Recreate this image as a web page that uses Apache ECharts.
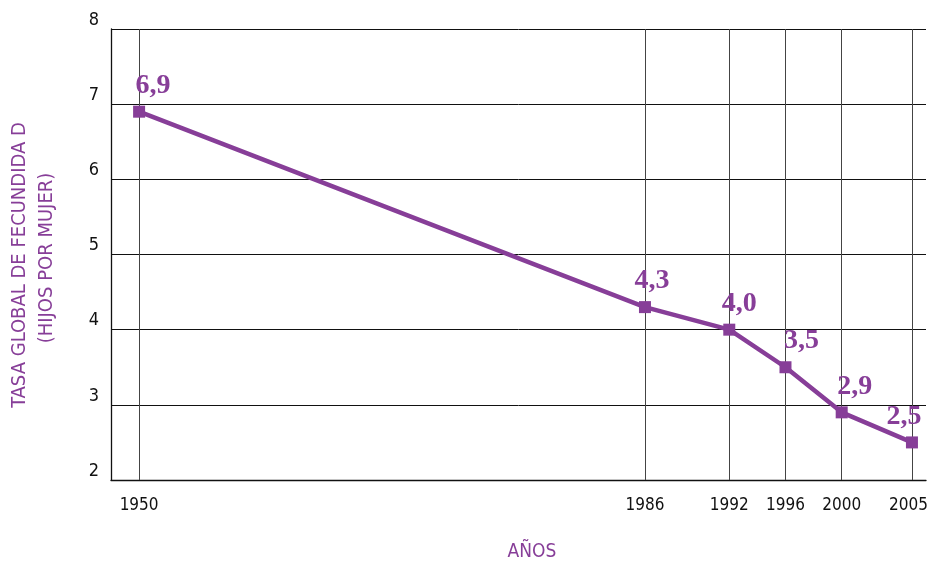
<!DOCTYPE html>
<html>
<head>
<meta charset="utf-8">
<script src="https://cdn.jsdelivr.net/npm/echarts@6/dist/echarts.min.js"></script>
<style>
  html, body { margin: 0; padding: 0; background: #fff; }
  #chart { width: 928px; height: 563px; }
</style>
</head>
<body>
<div id="chart"></div>
<script>
// Tasa global de fecundidad por año
const years = [1950, 1986, 1992, 1996, 2000, 2005];
const rates = [6.9, 4.3, 4.0, 3.5, 2.9, 2.5];
const rateLabels = ['6,9', '4,3', '4,0', '3,5', '2,9', '2,5'];
const labelOffsets = [[14, 0], [7, 0], [10, 0], [16, 0], [13, 0], [-8, 0]];
const yTicks = [2, 3, 4, 5, 6, 7, 8];

const purple = '#873E98';
const condensed = "'Liberation Sans Narrow', 'DejaVu Sans Condensed', 'Roboto', sans-serif";
const lastYear = years[years.length - 1];

const chart = echarts.init(document.getElementById('chart'));

chart.setOption({
  animation: false,
  grid: { left: 111, right: 2, top: 29, bottom: 83, outerBoundsMode: 'none', containLabel: false },
  xAxis: {
    type: 'value',
    min: 1948,
    max: 2006,
    axisLine: { show: true, lineStyle: { color: '#111', width: 1.3 } },
    axisTick: { show: false },
    splitLine: { show: false },
    axisLabel: {
      customValues: years,
      // the last year sits against the right edge, so nudge it inward
      formatter: v => (v === lastYear ? '{edge|' + v + '}' : String(v)),
      rich: { edge: { padding: [0, 7, 0, 0], fontSize: 17, fontFamily: condensed, color: '#111' } },
      color: '#111',
      fontFamily: condensed,
      fontSize: 17,
      margin: 17
    }
  },
  yAxis: {
    type: 'value',
    min: yTicks[0],
    max: yTicks[yTicks.length - 1],
    interval: 1,
    axisLine: { show: true, lineStyle: { color: '#111', width: 1.3 } },
    axisTick: { show: false },
    splitLine: { show: true, lineStyle: { color: '#111', width: 1 } },
    axisLabel: {
      color: '#111',
      fontFamily: condensed,
      fontSize: 18,
      margin: 12,
      verticalAlign: 'bottom'
    }
  },
  graphic: [
    {
      type: 'text',
      x: 20, y: 265, rotation: Math.PI / 2,
      style: {
        text: 'TASA GLOBAL DE FECUNDIDA D',
        fill: purple, font: "20px " + condensed,
        align: 'center', verticalAlign: 'middle'
      }
    },
    {
      type: 'text',
      x: 47, y: 258, rotation: Math.PI / 2,
      style: {
        text: '(HIJOS POR MUJER)',
        fill: purple, font: "20px " + condensed,
        align: 'center', verticalAlign: 'middle'
      }
    },
    {
      type: 'text',
      x: 532, y: 552,
      style: {
        text: 'AÑOS',
        fill: purple, font: "19px " + condensed,
        align: 'center', verticalAlign: 'middle'
      }
    }
  ],
  series: [{
    type: 'line',
    data: years.map((y, i) => ({
      value: [y, rates[i]],
      label: { offset: labelOffsets[i] }
    })),
    symbol: 'rect',
    symbolSize: 12,
    lineStyle: { color: purple, width: 4.5 },
    itemStyle: { color: purple },
    label: {
      show: true,
      position: 'top',
      distance: 6,
      formatter: p => rateLabels[p.dataIndex],
      color: purple,
      fontFamily: "'Liberation Serif', 'DejaVu Serif', serif",
      fontWeight: 'bold',
      fontSize: 28
    },
    z: 5,
    markLine: {
      silent: true,
      symbol: 'none',
      label: { show: false },
      lineStyle: { color: '#444', type: 'solid', width: 1 },
      data: years.map(y => ({ xAxis: y }))
    }
  }]
});
</script>
</body>
</html>
